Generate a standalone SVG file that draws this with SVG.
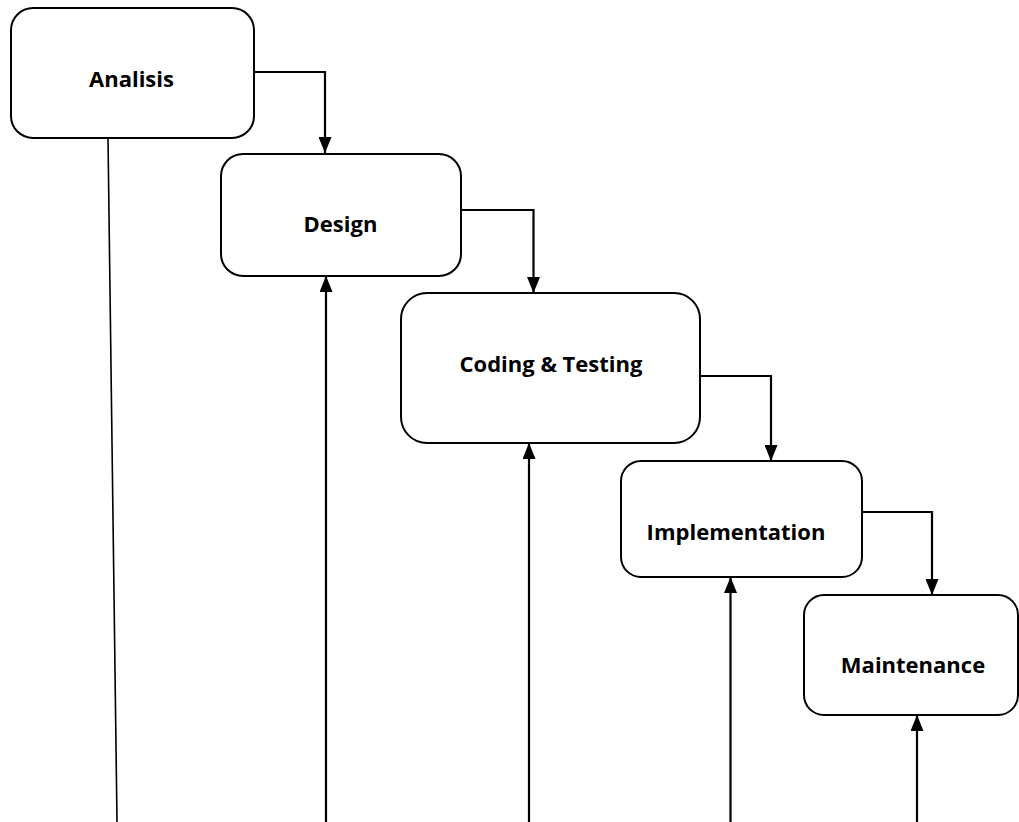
<svg xmlns="http://www.w3.org/2000/svg" width="1019" height="822" viewBox="0 0 1019 822">
<style>
.box{fill:#fff;stroke:#000;stroke-width:2}
.lbl{font-family:"Open Sans","Liberation Sans",sans-serif;font-weight:bold;font-size:22px;fill:#000;text-anchor:middle}
.con{fill:none;stroke:#000;stroke-width:2.2}
</style>
<defs>
<marker id="ah" markerUnits="userSpaceOnUse" markerWidth="16" markerHeight="13" refX="16" refY="6.5" orient="auto">
<path d="M0,0 L16,6.5 L0,13 z" fill="#000"/>
</marker>
</defs>
<rect width="1019" height="822" fill="#fff"/>
<g id="connectors">
<line class="con" x1="108" y1="138" x2="117" y2="822" style="stroke-width:1.6"/>
<polyline class="con" points="254,72 325,72 325,153" marker-end="url(#ah)"/>
<polyline class="con" points="461,210 533.5,210 533.5,293" marker-end="url(#ah)"/>
<polyline class="con" points="700,376 771,376 771,461" marker-end="url(#ah)"/>
<polyline class="con" points="862,512 932,512 932,595" marker-end="url(#ah)"/>
<line class="con" x1="326" y1="822" x2="326" y2="276" marker-end="url(#ah)"/>
<line class="con" x1="529" y1="822" x2="529" y2="443" marker-end="url(#ah)"/>
<line class="con" x1="730.5" y1="822" x2="730.5" y2="577" marker-end="url(#ah)"/>
<line class="con" x1="917" y1="822" x2="917" y2="715" marker-end="url(#ah)"/>
</g>
<g id="analisis">
<rect class="box" x="11" y="8" width="243" height="130" rx="22"/>
<text class="lbl" x="131.5" y="87">Analisis</text>
</g>
<g id="design">
<rect class="box" x="221" y="154" width="240" height="122" rx="22"/>
<text class="lbl" x="340.5" y="232">Design</text>
</g>
<g id="coding">
<rect class="box" x="401" y="293" width="299" height="150" rx="26"/>
<text class="lbl" x="551" y="372">Coding &amp; Testing</text>
</g>
<g id="implementation">
<rect class="box" x="621" y="461" width="241" height="116" rx="20"/>
<text class="lbl" x="736" y="540">Implementation</text>
</g>
<g id="maintenance">
<rect class="box" x="804" y="595" width="214" height="120" rx="20"/>
<text class="lbl" x="913" y="673">Maintenance</text>
</g>
</svg>
